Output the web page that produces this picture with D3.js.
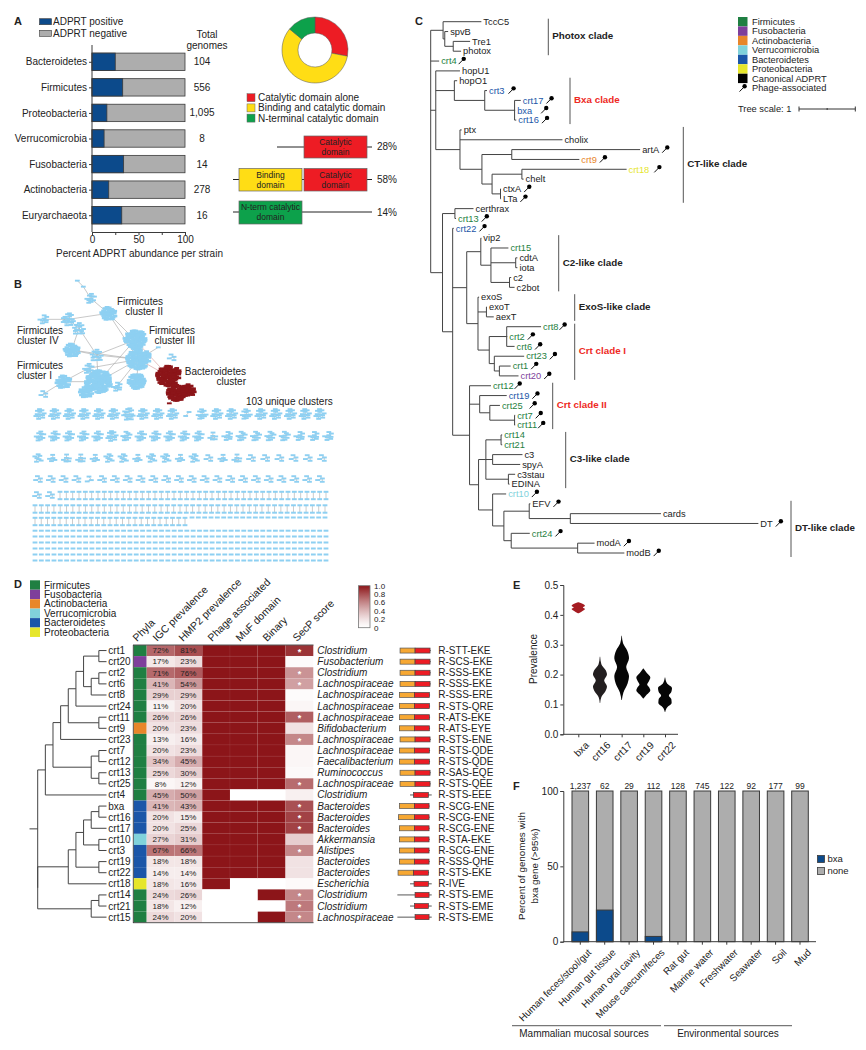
<!DOCTYPE html>
<html>
<head>
<meta charset="utf-8">
<script src="https://cdn.jsdelivr.net/npm/d3@7/dist/d3.min.js"></script>
<style>
  body { margin: 0; background: #fff; }
  text { font-family: "Liberation Sans", Arial, sans-serif; fill: #222; }
</style>
</head>
<body>
<svg id="fig" width="866" height="1050"></svg>
<script>
// ---- panel A data
const phylaA = ['Bacteroidetes', 'Firmicutes', 'Proteobacteria', 'Verrucomicrobia', 'Fusobacteria', 'Actinobacteria', 'Euryarchaeota'];
const adprtPositive = [25, 33, 16, 13, 34, 18, 32];
const totalGenomes = ['104', '556', '1,095', '8', '14', '278', '16'];
const domainTypes = ['Catalytic domain alone', 'Binding and catalytic domain', 'N-terminal catalytic domain'];
const domainShare = [28, 58, 14];

// ---- panel B data (node counts per cluster, graph layout units for the big component)
const bigX = [232, 250, 272, 325, 130, 205, 237, 405, 215, 290, 415, 265, 190, 295, 258, 410, 350, 130, 515, 475, 505, 530, 565, 508];
const bigY = [32, 50, 85, 130, 148, 148, 175, 210, 240, 255, 268, 295, 335, 335, 365, 335, 350, 372, 262, 232, 318, 368, 360, 400];
const bigN = [1, 1, 10, 30, 8, 18, 14, 70, 30, 14, 80, 10, 28, 100, 22, 40, 8, 4, 4, 1, 80, 50, 24, 1];
const bigLinks = [[0,1],[1,2],[2,3],[3,5],[5,6],[4,5],[3,7],[6,8],[6,9],[8,9],[9,10],[7,10],[10,13],[10,11],[13,12],[13,14],[13,9],[10,16],[10,15],[12,17],[10,19],[9,7],[11,13],[11,12],[20,21],[21,22],[21,23],[7,13],[8,10],[3,10]];
const redLinks = [[10,20],[7,20]];
const motifRow1 = [12,12,12,12,12,12,16,12,12,12,2,11,12,12,11,12,12,12,12,12];
const motifRow2 = [10,10,10,10,10,12,9,10,10,10,10,10,6,8,9,9,9,9,8,8,8];
const motifRow3 = [7,5,6,6,5,7,7,5,7,7,5,7,4,5,6,4,4,4,4,4,4];
const motifRow4 = [4,4,4,4,3,4,4,4,4,4,4,4,4,4,4,4,4,4,4,4,4,4,4];
const motifRow5 = [4, 4];
const pairCounts = [43, 47, 25];
const dashCounts = [22, 47, 47, 47, 47, 47, 47];

// ---- panel C data
const treeC = '((TccC5:.68,(spvB:.06,(Tre1:.30,photox:.14):.15):.03):.22,crt4:.15,(hopU1:.43,(hopO1:.05,(crt3:.04,(crt17:.11,bxa:.01,crt16:.03):.53):.54):.33,(ptx:.03,cholix:1.82,((artA:2.28,crt9:1.20):.53,((crt18:1.86,chelt:.03):.53,(ctxA:.01,LTa:.01):.15):.18):.39):.43):.09,((certhrax:.33,crt13:.02):.22,(crt22:.02,((vip2:.01,(crt15:.31,(cdtA:.03,iota:.03):.44,(c2:.03,c2bot:.09):.33):.18):.25,(exoS:.02,(exoT:.01,aexT:.13):.15,((crt8:.61,crt2:.01,crt6:.14):.31,(crt23:.53,(crt1:.20,crt20:.34):.09):.09):.20):.20):.25,(crt12:.38,(crt19:.48,(crt25:.18,(crt7:.01,crt11:.01):.44):.18):.18,((((crt14:.02,crt21:.02):.27,(c3:.53,spyA:.49):.12,(c3stau:.12,EDINA:.02):.40):.13,(crt10:.24,((EFV:.02,(cards:1.61,DT:3.34):.73):.45,(crt24:.33,(modA:.30,modB:.83):1.18):.13):.20):.25):.16)):.30):.18):.21)';
const phageTagged = ['crt4','crt3','crt17','bxa','crt16','artA','crt9','crt18','ctxA','LTa','crt13','crt22','crt8','crt2','crt6','crt23','crt1','crt20','crt12','crt19','crt25','crt7','crt11','crt10','EFV','DT','crt24','modA','modB'];
const cladeNames = ['Photox clade', 'Bxa clade', 'CT-like clade', 'C2-like clade', 'ExoS-like clade', 'Crt clade I', 'Crt clade II', 'C3-like clade', 'DT-like clade'];
const cladeFirstLeaf = ['TccC5', 'hopO1', 'ptx', 'vip2', 'exoS', 'crt8', 'crt12', 'crt14', 'EFV'];
const cladeLastLeaf = ['photox', 'crt16', 'LTa', 'c2bot', 'aexT', 'crt20', 'crt11', 'EDINA', 'modB'];
const cladeHighlighted = ['Bxa clade', 'Crt clade I', 'Crt clade II'];

// ---- panel D data
const treeD = '((((((((crt1:1,crt20:1):2,((crt2:1,crt6:1):1,crt8:2):1):1,crt24:4):1,(crt11:1,crt9:1):4):1,crt23:6):1,((crt7:1,crt12:1):1,(crt13:1,crt25:1):1):5):1,crt4:8):1,((((((bxa:1,crt16:1):1,crt17:2):1,(crt10:1,crt3:1):2):1,(crt19:1,crt22:1):3):1,crt18:5):4,((crt14:1,crt21:1):1,crt15:2):7)';
const crtNames = ['crt1','crt20','crt2','crt6','crt8','crt24','crt11','crt9','crt23','crt7','crt12','crt13','crt25','crt4','bxa','crt16','crt17','crt10','crt3','crt19','crt22','crt18','crt14','crt21','crt15'];
const crtPhylum = ['Firmicutes','Fusobacteria','Firmicutes','Firmicutes','Firmicutes','Firmicutes','Firmicutes','Actinobacteria','Firmicutes','Firmicutes','Firmicutes','Firmicutes','Firmicutes','Firmicutes','Bacteroidetes','Bacteroidetes','Bacteroidetes','Verrucomicrobia','Bacteroidetes','Bacteroidetes','Bacteroidetes','Proteobacteria','Firmicutes','Firmicutes','Firmicutes'];
const igcPrev = [72,17,71,41,29,11,26,20,13,20,34,25,8,45,41,20,20,27,67,18,14,18,24,18,24];
const hmpPrev = [81,23,76,54,29,20,26,23,16,23,45,30,12,50,43,15,25,31,66,18,14,16,26,12,20];
const phageAssoc = [1,1,1,1,1,1,1,1,1,1,1,1,1,1,1,1,1,1,1,1,1,1,0,0,0];
const mufDomain  = [1,1,1,1,1,1,1,1,1,1,1,1,1,0,1,1,1,1,1,1,1,0,0,0,0];
const binaryTox  = [1,1,1,1,1,1,1,1,1,1,1,1,1,0,1,1,1,1,1,1,1,0,1,0,1];
const secpScore = [.9,.05,.55,.5,.04,.08,.75,.2,.6,.08,.08,.06,.7,.12,.8,.85,.85,.3,.6,.2,.2,.05,.6,.65,.6];
const secpStar  = [1,0,1,1,0,0,1,0,1,0,0,0,1,0,1,1,1,0,1,0,0,0,1,1,1];
const genus = ['Clostridium','Fusobacterium','Clostridium','Lachnospiraceae','Lachnospiraceae','Lachnospiraceae','Lachnospiraceae','Bifidobacterium','Lachnospiraceae','Lachnospiraceae','Faecalibacterium','Ruminococcus','Lachnospiraceae','Clostridium','Bacteroides','Bacteroides','Bacteroides','Akkermansia','Alistipes','Bacteroides','Bacteroides','Escherichia','Clostridium','Clostridium','Lachnospiraceae'];
const motifs = ['R-STT-EKE','R-SCS-EKE','R-SSS-EKE','R-SSS-EKE','R-SSS-ERE','R-STS-QRE','R-ATS-EKE','R-ATS-EYE','R-STS-ENE','R-STS-QDE','R-STS-QDE','R-SAS-EQE','R-STS-QEE','R-STS-EEE','R-SCG-ENE','R-SCG-ENE','R-SCG-ENE','R-STA-EKE','R-SCG-ENE','R-SSS-QHE','R-STS-EKE','R-IVE','R-STS-EME','R-STS-EME','R-STS-EME'];
// domain architecture per protein, in relative residue units
const protStart = [10,10,10,10,8,8,8,8,10,8,8,10,10,40,8,5,8,8,8,8,4,40,2,40,2];
const bindStart = [10,10,10,10,8,8,8,8,10,8,8,10,10,null,8,5,8,8,8,8,4,null,null,null,null];
const catStart  = [55,55,55,55,53,53,53,53,55,53,53,55,55,50,53,53,53,53,53,53,50,52,55,53,55];
const catEnd    = [100,100,100,100,98,98,98,98,100,98,98,100,100,95,97,97,97,97,97,97,95,95,97,95,97];
const protEnd   = [102,102,102,102,100,100,100,100,102,100,100,102,102,105,99,99,99,99,99,99,97,105,105,105,105];
const heatHeaders = ['Phyla', 'IGC prevalence', 'HMP2 prevalence', 'Phage associated', 'MuF domain', 'Binary', 'SecP score'];
const legendTicks = [1, .8, .6, .4, .2, 0];

// ---- panel E data
const violinNames = ['bxa', 'crt16', 'crt17', 'crt19', 'crt22'];
const violinLevels = [
  [.405,.413,.42,.425,.43,.437,.442],
  [.105,.125,.145,.16,.18,.2,.215,.235,.26],
  [.115,.14,.17,.195,.225,.255,.28,.305,.33],
  [.12,.133,.147,.158,.167,.178,.19,.205,.22],
  [.075,.09,.105,.118,.13,.142,.155,.17,.19]
];
const violinDensity = [
  [.05,.6,.95,.65,.95,.6,.05],
  [.03,.2,.8,1,.6,1,.8,.2,.03],
  [.03,.25,.85,1.05,.65,1.05,.8,.2,.03],
  [.03,.5,1,.8,.55,.8,1,.5,.03],
  [.03,.3,.95,.9,.55,.9,1,.3,.03]
];

// ---- panel F data
const sources = ['Human feces/stool/gut', 'Human gut tissue', 'Human oral cavity', 'Mouse caecum/feces', 'Rat gut', 'Marine water', 'Freshwater', 'Seawater', 'Soil', 'Mud'];
const bxaPercent = [6.5, 21, 0, 3.5, 0, 0, 0, 0, 0, 0];
const sourceGenomes = ['1,237', '62', '29', '112', '128', '745', '122', '92', '177', '99'];

const phylumColor = { Firmicutes: '#1f7f42', Fusobacteria: '#7e3f9b', Actinobacteria: '#e8862a', Verrucomicrobia: '#80d2db', Bacteroidetes: '#1b56a8', Proteobacteria: '#e6e62b' };
const phylumOrder = ['Firmicutes', 'Fusobacteria', 'Actinobacteria', 'Verrucomicrobia', 'Bacteroidetes', 'Proteobacteria'];
const BLUE = '#0c4a8b', GREY = '#adadad', DARK = '#3a3a3a', DEEPRED = '#8c1519';
const RED = '#ed1c24', YELLOW = '#ffdd15', GREEN = '#0da14b';

const svg = d3.select('#fig');

function label(g, x, y, str, size = 10, anchor = 'start') {
  return g.append('text').attr('x', x).attr('y', y).attr('dy', '.35em')
    .attr('text-anchor', anchor).attr('font-size', size).text(str);
}

function styleAxis(g, size = 10) {
  g.selectAll('path, line').attr('stroke', DARK).attr('stroke-width', 1);
  g.selectAll('text').attr('font-size', size);
  return g;
}

// panel letters
[['A', 14, 21], ['B', 14, 284], ['C', 415, 21], ['D', 14, 584], ['E', 513, 585], ['F', 513, 786]].forEach(([s, x, y]) => {
  label(svg, x, y, s, 11).attr('font-weight', 'bold');
});

// newick string to nested nodes
function parseNewick(str) {
  let i = 0;
  function node() {
    const n = { name: '', len: 0 };
    if (str[i] === '(') {
      n.children = [];
      do { i++; n.children.push(node()); } while (str[i] === ',');
      i++; // closing bracket
    }
    const m = /^([^:,()]*)(:[\d.]+)?/.exec(str.slice(i));
    n.name = m[1];
    if (m[2]) n.len = +m[2].slice(1);
    i += m[0].length;
    return n;
  }
  return node();
}

// draws a rectangular tree, x from cumulative branch length, y from leaf order
function drawTree(g, newick, xScale, yScale, stroke) {
  const root = d3.hierarchy(parseNewick(newick));
  root.eachBefore(d => { d.dist = (d.parent ? d.parent.dist : 0) + d.data.len; });
  root.leaves().forEach((d, i) => { d.yy = yScale(i); });
  root.eachAfter(d => {
    if (d.children) d.yy = (d.children[0].yy + d.children[d.children.length - 1].yy) / 2;
  });
  const segs = [];
  root.each(d => {
    if (d.parent) segs.push(`M${xScale(d.parent.dist)},${d.yy}H${xScale(d.dist)}`);
    if (d.children) segs.push(`M${xScale(d.dist)},${d.children[0].yy}V${d.children[d.children.length - 1].yy}`);
  });
  g.append('path').attr('d', segs.join('')).attr('fill', 'none').attr('stroke', stroke).attr('stroke-width', 1);
  return root;
}

// ---------------- Panel A
const gA = svg.append('g');
const xA = d3.scaleLinear().domain([0, 100]).range([92, 185]);
const yA = d3.scaleBand().domain(phylaA).range([49, 228]).paddingInner(.32).paddingOuter(.16);
gA.append('g').selectAll('rect.neg').data(phylaA).join('rect')
  .attr('x', xA(0)).attr('y', d => yA(d)).attr('width', xA(100) - xA(0)).attr('height', yA.bandwidth())
  .attr('fill', GREY).attr('stroke', DARK).attr('stroke-width', .8);
gA.append('g').selectAll('rect.pos').data(phylaA).join('rect')
  .attr('x', xA(0)).attr('y', d => yA(d))
  .attr('width', (d, i) => xA(adprtPositive[i]) - xA(0)).attr('height', yA.bandwidth())
  .attr('fill', BLUE).attr('stroke', DARK).attr('stroke-width', .8);
styleAxis(gA.append('g').attr('transform', 'translate(92,0)')
  .call(d3.axisLeft(d3.scalePoint().domain(phylaA).range([yA(phylaA[0]) + yA.bandwidth() / 2, yA(phylaA[6]) + yA.bandwidth() / 2])).tickSize(3).tickPadding(2))
  .call(g => g.select('.domain').remove()));
gA.append('line').attr('x1', 92).attr('x2', 92).attr('y1', 45).attr('y2', 232).attr('stroke', DARK);
styleAxis(gA.append('g').attr('transform', 'translate(0,232)')
  .call(d3.axisBottom(xA).tickValues([0, 25, 50, 75, 100]).tickSize(3).tickFormat(d => d % 50 ? '' : d).tickPadding(1)));
label(gA, 139.5, 253, 'Percent ADPRT abundance per strain', 10, 'middle');
phylaA.forEach((d, i) => label(gA, 202, yA(d) + yA.bandwidth() / 2, totalGenomes[i], 10, 'middle'));
label(gA, 207, 34, 'Total', 10, 'middle');
label(gA, 207, 45, 'genomes', 10, 'middle');
[['ADPRT positive', BLUE, 21.7], ['ADPRT negative', GREY, 33.3]].forEach(([s, c, y]) => {
  gA.append('rect').attr('x', 39.5).attr('y', y - 3).attr('width', 12).attr('height', 6).attr('fill', c).attr('stroke', DARK).attr('stroke-width', .6);
  label(gA, 53, y, s, 10);
});

// donut
const donutColors = [RED, YELLOW, GREEN];
const pie = d3.pie().sort(null)(domainShare);
const arc = d3.arc().innerRadius(17).outerRadius(33);
gA.append('g').attr('transform', 'translate(315,50)').selectAll('path').data(pie).join('path')
  .attr('d', arc).attr('fill', (d, i) => donutColors[i]).attr('stroke', '#555').attr('stroke-width', .5);
domainTypes.forEach((s, i) => {
  const y = 97.7 + i * 10.2;
  gA.append('rect').attr('x', 247).attr('y', y - 4).attr('width', 8).attr('height', 8).attr('fill', donutColors[i]).attr('stroke', '#666').attr('stroke-width', .5);
  label(gA, 258, y, s, 10);
});

// domain schematics
function domBox(g, x, y, w, h, color, lines) {
  g.append('rect').attr('x', x).attr('y', y).attr('width', w).attr('height', h).attr('fill', color).attr('stroke', '#666').attr('stroke-width', .7);
  lines.forEach((s, i) => label(g, x + w / 2, y + 6.5 + i * 10, s, 8.5, 'middle'));
}
function domLine(g, x1, x2, y) {
  g.append('line').attr('x1', x1).attr('x2', x2).attr('y1', y).attr('y2', y).attr('stroke', '#222').attr('stroke-width', 1);
}
domLine(gA, 277, 304, 147); domLine(gA, 367, 372, 147);
domBox(gA, 304, 136, 63, 22, RED, ['Catalytic', 'domain']);
label(gA, 377, 146.5, domainShare[0] + '%', 10);
domLine(gA, 233, 239, 179.5); domLine(gA, 302, 304, 179.5); domLine(gA, 367, 372, 179.5);
domBox(gA, 239, 168.5, 63, 22.5, YELLOW, ['Binding', 'domain']);
domBox(gA, 304, 168.5, 63, 22.5, RED, ['Catalytic', 'domain']);
label(gA, 377, 179, domainShare[1] + '%', 10);
domLine(gA, 233, 239, 212); domLine(gA, 302, 372, 212);
domBox(gA, 239, 201, 63, 23, GREEN, ['N-term catalytic', 'domain']);
label(gA, 377, 212, domainShare[2] + '%', 10);

// ---------------- Panel B
const gB = svg.append('g');
const netX = d3.scaleLinear().domain([0, 300]).range([0, 100]);
const netY = d3.scaleLinear().domain([0, 300]).range([270, 370]);
const NODE_BLUE = '#8ed0f2';

// graph layout of one cluster with d3-force, scaled to a box around (cx, cy)
function layoutCluster(n) {
  const nodes = d3.range(n).map(i => ({ id: i }));
  const links = d3.range(1, n).map(i => ({ source: i, target: Math.floor((i - 1) / 3) }));
  const sim = d3.forceSimulation(nodes)
    .force('charge', d3.forceManyBody().strength(-10))
    .force('link', d3.forceLink(links).distance(5).strength(.15))
    .force('x', d3.forceX().strength(.15))
    .force('y', d3.forceY().strength(.15))
    .stop();
  for (let i = 0; i < 80; i++) sim.tick();
  const rx = n > 1 ? 1.2 * Math.sqrt(n) : 0, ry = n > 1 ? (n <= 20 ? 1.4 : 1.1) * Math.sqrt(n) : 0;
  const sx = d3.scaleLinear().domain(d3.extent(nodes, d => d.x)).range([-rx, rx]);
  const sy = d3.scaleLinear().domain(d3.extent(nodes, d => d.y)).range([-ry, ry]);
  nodes.forEach(d => { d.px = n > 1 ? sx(d.x) : 0; d.py = n > 1 ? sy(d.y) : 0; });
  return { nodes, links };
}

const edgeLayer = gB.append('g');
const nodeLayer = gB.append('g');
function drawCluster(n, cx, cy, color) {
  const { nodes, links } = layoutCluster(n);
  edgeLayer.append('g').selectAll('line').data(links).join('line')
    .attr('x1', d => cx + d.source.px).attr('y1', d => cy + d.source.py)
    .attr('x2', d => cx + d.target.px).attr('y2', d => cy + d.target.py)
    .attr('stroke', '#a8a8a8').attr('stroke-width', .6);
  const h = n > 20 ? 2.6 : 1.9;
  nodeLayer.append('g').selectAll('rect').data(nodes).join('rect')
    .attr('x', d => cx + d.px - 2.4).attr('y', d => cy + d.py - h / 2)
    .attr('width', 4.8).attr('height', h).attr('fill', color);
}

bigLinks.concat(redLinks).forEach(([a, b], i) => {
  edgeLayer.append('line')
    .attr('x1', netX(bigX[a])).attr('y1', netY(bigY[a]))
    .attr('x2', netX(bigX[b])).attr('y2', netY(bigY[b]))
    .attr('stroke', i >= bigLinks.length ? '#d9a7a7' : '#b0b0b0').attr('stroke-width', .7);
});
bigN.forEach((n, i) => drawCluster(n, netX(bigX[i]), netY(bigY[i]), i >= 20 ? DEEPRED : NODE_BLUE));

[[motifRow1, 40, 320, 414], [motifRow2, 40, 328, 436], [motifRow3, 38, 322, 458], [motifRow4, 38, 320, 479], [motifRow5, 37, 50, 495]].forEach(([row, x0, x1, y]) => {
  const px = d3.scalePoint().domain(d3.range(row.length)).range([x0, x1]);
  row.forEach((n, i) => drawCluster(n, px(i), y, NODE_BLUE));
});

[[60, 326, 495.5], [35, 325, 509], [35, 185, 521.5]].forEach(([x0, x1, y], r) => {
  const px = d3.scalePoint().domain(d3.range(pairCounts[r])).range([x0, x1]);
  d3.range(pairCounts[r]).forEach(i => {
    edgeLayer.append('line').attr('x1', px(i)).attr('x2', px(i)).attr('y1', y - 3.7).attr('y2', y + 3.7).attr('stroke', '#a8a8a8').attr('stroke-width', .6);
    [-3.7, 3.7].forEach(o => nodeLayer.append('rect').attr('x', px(i) - 2.4).attr('y', y + o - 1).attr('width', 4.8).attr('height', 2).attr('fill', NODE_BLUE));
  });
});
[[192, 325, 517.5], [35, 326, 530.7], [35, 326, 536.5], [35, 326, 542.5], [35, 326, 548.5], [35, 326, 554.5], [35, 326, 560.5]].forEach(([x0, x1, y], r) => {
  const px = d3.scalePoint().domain(d3.range(dashCounts[r])).range([x0, x1]);
  nodeLayer.append('g').selectAll('rect').data(d3.range(dashCounts[r])).join('rect')
    .attr('x', d => px(d) - 2.4).attr('y', y - 1).attr('width', 4.8).attr('height', 2).attr('fill', NODE_BLUE);
});

label(gB, 163, 301.7, 'Firmicutes', 10, 'end');
label(gB, 163, 311, 'cluster II', 10, 'end');
label(gB, 17, 330, 'Firmicutes', 10);
label(gB, 17, 340, 'cluster IV', 10);
label(gB, 17, 365.7, 'Firmicutes', 10);
label(gB, 17, 375.7, 'cluster I', 10);
label(gB, 195, 330.7, 'Firmicutes', 10, 'end');
label(gB, 195, 340.3, 'cluster III', 10, 'end');
label(gB, 246, 371.7, 'Bacteroidetes', 10, 'end');
label(gB, 246, 381, 'cluster', 10, 'end');
label(gB, 246, 401.3, '103 unique clusters', 10);

// ---------------- Panel C
const gC = svg.append('g');
const nameColor = {};
crtNames.forEach((d, i) => { nameColor[d] = phylumColor[crtPhylum[i]]; });
const xC = d3.scaleLinear().domain([0, 1]).range([430.7, 487]);
const yC = d3.scaleLinear().domain([0, 54]).range([21.7, 553]);
const rootC = drawTree(gC, treeC, xC, yC, '#444');

function phageIcon(g, x, y) {
  const p = g.append('g').attr('transform', `translate(${x},${y})`);
  p.append('line').attr('x1', 0).attr('y1', 3.6).attr('x2', 4.5).attr('y2', -1).attr('stroke', '#111').attr('stroke-width', 1);
  p.append('circle').attr('cx', 5.1).attr('cy', -1.7).attr('r', 2.2).attr('fill', '#000');
}
const phageGap = { bxa: 9, crt18: 5, crt25: 7, crt3: 4, crt8: 1, crt11: 1, crt12: 1, crt4: 2 };
rootC.leaves().forEach(d => {
  const name = d.data.name;
  const t = label(gC, xC(d.dist) + 2, d.yy, name, 9.3);
  if (nameColor[name]) t.style('fill', nameColor[name]);
  if (phageTagged.includes(name)) {
    const w = t.node().getComputedTextLength();
    phageIcon(gC, xC(d.dist) + 2 + w + (phageGap[name] ?? 3), d.yy - .5);
  }
});

// clade bars span their leaves
const cladeBarX = [548.3, 570, 683.3, 558.7, 574.7, 574.7, 552.7, 565.7, 791];
const leafY = new Map(rootC.leaves().map(d => [d.data.name, d.yy]));
cladeNames.forEach((s, i) => {
  const y1 = leafY.get(cladeFirstLeaf[i]) - 3, y2 = leafY.get(cladeLastLeaf[i]) + 4;
  gC.append('line').attr('x1', cladeBarX[i]).attr('x2', cladeBarX[i]).attr('y1', y1).attr('y2', y2).attr('stroke', '#555').attr('stroke-width', 1);
  const t = label(gC, cladeBarX[i] + 4, (y1 + y2) / 2 - 1, s, 9.8).attr('font-weight', 'bold');
  if (cladeHighlighted.includes(s)) t.style('fill', '#ee2a24');
});

// C legend
const legendC = phylumOrder.map(d => [d, phylumColor[d]]).concat([['Canonical ADPRT', '#000']]);
legendC.forEach(([s, c], i) => {
  const y = 21.7 + i * 9.45;
  gC.append('rect').attr('x', 738).attr('y', y - 4.7).attr('width', 9.5).attr('height', 9.4).attr('fill', c);
  label(gC, 752, y, s, 9.3);
});
phageIcon(gC, 739.5, 88);
label(gC, 752, 88, 'Phage-associated', 9.3);
label(gC, 738, 109, 'Tree scale: 1', 9.3);
const scaleBar = gC.append('g').attr('transform', 'translate(799,109)');
const barScale = d3.scaleLinear().domain([0, 1]).range([0, xC(1) - xC(0)]);
scaleBar.append('line').attr('x2', barScale(1)).attr('stroke', '#333');
[[0, 2.5], [.5, 1], [1, 2.5]].forEach(([v, h]) => {
  scaleBar.append('line').attr('x1', barScale(v)).attr('x2', barScale(v)).attr('y1', -h).attr('y2', h).attr('stroke', '#333');
});

// ---------------- Panel D
const gD = svg.append('g');
const rowD = d3.scaleBand().domain(crtNames).range([645, 922.7]);
const yMid = d => rowD(d) + rowD.bandwidth() / 2;
const xTreeD = d3.scaleLinear().domain([0, 9]).range([37.7, 106.5]);
const rootD = drawTree(gD, treeD, xTreeD, i => yMid(crtNames[i]), '#444');
gD.append('line').attr('x1', 29.5).attr('x2', 37.7).attr('y1', rootD.yy).attr('y2', rootD.yy).attr('stroke', '#444');
crtNames.forEach(d => label(gD, 108.3, yMid(d), d, 10));

phylumOrder.forEach((p, i) => {
  const y = 585 + i * 9.45;
  gD.append('rect').attr('x', 30).attr('y', y - 4.7).attr('width', 10).attr('height', 9.4).attr('fill', phylumColor[p]);
  label(gD, 44, y, p, 10);
});

const heatColor = t => d3.interpolateRgb('#ffffff', DEEPRED)(Math.pow(t, 1.3));
const colD = d3.scaleBand().domain(['IGC', 'HMP', 'Phage', 'MuF', 'Binary', 'SecP']).range([146.7, 313.3]);
const colValues = { IGC: igcPrev.map(v => v / 100), HMP: hmpPrev.map(v => v / 100), Phage: phageAssoc, MuF: mufDomain, Binary: binaryTox, SecP: secpScore };
gD.append('g').selectAll('rect').data(crtNames).join('rect')
  .attr('x', 133.5).attr('y', d => rowD(d)).attr('width', 13.2).attr('height', rowD.bandwidth())
  .attr('fill', (d, i) => phylumColor[crtPhylum[i]]);
colD.domain().forEach(col => {
  gD.append('g').selectAll('rect').data(crtNames).join('rect')
    .attr('x', colD(col)).attr('y', d => rowD(d)).attr('width', colD.bandwidth()).attr('height', rowD.bandwidth())
    .attr('fill', (d, i) => heatColor(colValues[col][i])).attr('stroke', 'rgba(255,255,255,.12)').attr('stroke-width', .4);
});
crtNames.forEach((d, i) => {
  label(gD, colD('IGC') + colD.bandwidth() / 2, yMid(d), igcPrev[i] + '%', 8, 'middle');
  label(gD, colD('HMP') + colD.bandwidth() / 2, yMid(d), hmpPrev[i] + '%', 8, 'middle');
  if (secpStar[i]) label(gD, colD('SecP') + colD.bandwidth() / 2, yMid(d) + 1, '*', 9, 'middle').style('fill', '#fff').attr('font-weight', 'bold');
});
[645, 922.7].forEach(y => gD.append('line').attr('x1', 133).attr('x2', 313.5).attr('y1', y).attr('y2', y).attr('stroke', '#555').attr('stroke-width', 1));
gD.append('line').attr('x1', 133.3).attr('x2', 133.3).attr('y1', 645).attr('y2', 923).attr('stroke', '#333').attr('stroke-width', .8);

const headerX = [137, 157, 183, 212, 240, 267, 297];
heatHeaders.forEach((s, i) => {
  gD.append('text').attr('transform', `translate(${headerX[i]},642) rotate(-45)`).attr('font-size', 10.5).text(s);
});

crtNames.forEach((d, i) => {
  label(gD, 317.3, yMid(d), genus[i], 10).attr('font-style', 'italic');
  label(gD, 438.3, yMid(d), motifs[i], 10);
});

// domain architecture glyphs
const xDom = d3.scaleLinear().domain([0, 110]).range([396.7, 433.4]);
crtNames.forEach((d, i) => {
  const y = yMid(d);
  gD.append('line').attr('x1', xDom(protStart[i])).attr('x2', xDom(protEnd[i])).attr('y1', y).attr('y2', y).attr('stroke', '#444').attr('stroke-width', .9);
  if (bindStart[i] !== null) {
    gD.append('rect').attr('x', xDom(bindStart[i])).attr('y', y - 2.5).attr('width', xDom(catStart[i]) - xDom(bindStart[i])).attr('height', 5)
      .attr('fill', '#f7a833').attr('stroke', '#555').attr('stroke-width', .7);
  }
  gD.append('rect').attr('x', xDom(catStart[i])).attr('y', y - 2.5).attr('width', xDom(catEnd[i]) - xDom(catStart[i])).attr('height', 5)
    .attr('fill', RED).attr('stroke', '#444').attr('stroke-width', .7);
});

// colour legend
const defs = svg.append('defs');
const grad = defs.append('linearGradient').attr('id', 'heatGrad').attr('x1', 0).attr('x2', 0).attr('y1', 1).attr('y2', 0);
d3.range(0, 1.01, .1).forEach(t => grad.append('stop').attr('offset', t).attr('stop-color', heatColor(t)));
const yLegend = d3.scaleLinear().domain([0, 1]).range([627.7, 585.7]);
gD.append('rect').attr('x', 358.5).attr('y', yLegend(1)).attr('width', 11.5).attr('height', yLegend(0) - yLegend(1))
  .attr('fill', 'url(#heatGrad)').attr('stroke', '#777').attr('stroke-width', .8);
legendTicks.forEach(v => label(gD, 374, yLegend(v), v === 0 ? '0' : v.toFixed(1), 8));

// ---------------- Panel E
const gE = svg.append('g');
const yE = d3.scaleLinear().domain([0, .5]).range([734.3, 585]);
const xE = d3.scalePoint().domain(violinNames).range([578.3, 665]);
const widthE = d3.scaleLinear().domain([0, 1]).range([0, 7]);
violinNames.forEach((name, i) => {
  const area = d3.area().curve(d3.curveMonotoneY)
    .y(d => yE(d[0]))
    .x0(d => xE(name) - widthE(d[1]))
    .x1(d => xE(name) + widthE(d[1]));
  gE.append('path').datum(d3.zip(violinLevels[i], violinDensity[i])).attr('d', area)
    .attr('fill', i === 0 ? '#a51c22' : i === 1 ? '#231f20' : '#060606');
});
styleAxis(gE.append('g').attr('transform', 'translate(563.3,0)').call(d3.axisLeft(yE).ticks(5).tickFormat(d3.format('.1f')).tickSize(3).tickPadding(2)));
const xAxisE = gE.append('g').attr('transform', 'translate(0,734.3)')
  .call(d3.axisBottom(d3.scalePoint().domain(violinNames).range([578.3, 665])).tickSize(3).tickSizeOuter(0));
gE.append('line').attr('x1', 563.3).attr('x2', 678).attr('y1', 734.3).attr('y2', 734.3).attr('stroke', DARK);
styleAxis(xAxisE);
xAxisE.select('.domain').remove();
xAxisE.selectAll('text').attr('text-anchor', 'end').attr('transform', 'translate(3,1) rotate(-45)').attr('dx', '-.2em').attr('dy', '.7em');
gE.append('text').attr('transform', 'translate(533,659) rotate(-90)').attr('dy', '.35em').attr('text-anchor', 'middle').attr('font-size', 10).text('Prevalence');

// ---------------- Panel F
const gF = svg.append('g');
const yF = d3.scaleLinear().domain([0, 100]).range([941.7, 791]);
const xF = d3.scaleBand().domain(sources).range([572, 808.3]).paddingInner(.32).paddingOuter(0);
gF.append('g').selectAll('rect').data(sources).join('rect')
  .attr('x', d => xF(d)).attr('y', yF(100)).attr('width', xF.bandwidth()).attr('height', yF(0) - yF(100))
  .attr('fill', GREY).attr('stroke', DARK).attr('stroke-width', 1);
gF.append('g').selectAll('rect').data(sources.filter((d, i) => bxaPercent[i] > 0)).join('rect')
  .attr('x', d => xF(d)).attr('y', d => yF(bxaPercent[sources.indexOf(d)]))
  .attr('width', xF.bandwidth()).attr('height', d => yF(0) - yF(bxaPercent[sources.indexOf(d)]))
  .attr('fill', BLUE).attr('stroke', DARK).attr('stroke-width', 1);
sources.forEach((d, i) => label(gF, xF(d) + xF.bandwidth() / 2, 786, sourceGenomes[i], 8.5, 'middle'));
styleAxis(gF.append('g').attr('transform', 'translate(563.3,0)').call(d3.axisLeft(yF).tickValues([0, 50, 100]).tickSize(3).tickPadding(2)));
const xAxisF = gF.append('g').attr('transform', 'translate(0,941.7)').call(d3.axisBottom(xF).tickSize(3).tickSizeOuter(0));
styleAxis(xAxisF, 9.8);
xAxisF.select('.domain').remove();
gF.append('line').attr('x1', 563.3).attr('x2', 816).attr('y1', 941.7).attr('y2', 941.7).attr('stroke', DARK);
xAxisF.selectAll('text').attr('text-anchor', 'end').attr('transform', 'translate(4,1) rotate(-45)').attr('dx', '-.2em').attr('dy', '.7em');
gF.append('text').attr('transform', 'translate(521.7,866) rotate(-90)').attr('dy', '.35em').attr('text-anchor', 'middle').attr('font-size', 9.8).text('Percent of genomes with');
gF.append('text').attr('transform', 'translate(535,866) rotate(-90)').attr('dy', '.35em').attr('text-anchor', 'middle').attr('font-size', 9.8).text('bxa gene (>95%)');
[['bxa', BLUE, 859], ['none', GREY, 871]].forEach(([s, c, y]) => {
  gF.append('rect').attr('x', 817.5).attr('y', y - 3.5).attr('width', 7).attr('height', 7).attr('fill', c).attr('stroke', DARK).attr('stroke-width', .8);
  label(gF, 827.5, y, s, 9.5);
});
[[512, 661], [664, 792]].forEach(([a, b]) => gF.append('line').attr('x1', a).attr('x2', b).attr('y1', 1025.7).attr('y2', 1025.7).attr('stroke', '#777').attr('stroke-width', 1.2));
label(gF, 584, 1033.7, 'Mammalian mucosal sources', 10, 'middle');
label(gF, 728, 1033.7, 'Environmental sources', 10, 'middle');
</script>
</body>
</html>
